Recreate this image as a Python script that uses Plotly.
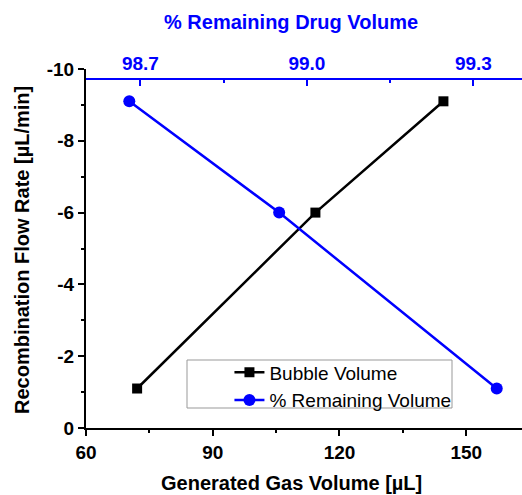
import plotly.graph_objects as go

# Data
gas_volume = [72.1, 114.3, 144.6]            # Generated Gas Volume [µL]
bubble_rate = [-1.1, -6.0, -9.1]             # Recombination Flow Rate [µL/min]
remaining_pct = [98.68, 98.95, 99.342]       # % Remaining Drug Volume
remaining_rate = [-9.1, -6.0, -1.1]

x_ticks = [60, 90, 120, 150]
y_ticks = [-10, -8, -6, -4, -2, 0]
y_ticktext = ["-10", "-8", "-6", "-4", "-2", "0"]
top_ticks = [98.7, 99.0, 99.3]
top_ticktext = ["98.7", "99.0", "99.3"]

FONT = "Liberation Sans, Arial, sans-serif"
BLUE = "#0000FF"
L, R, T, B = 86, 0, 69, 67
PW, PH = 522 - L - R, 495 - T - B

fig = go.Figure()
fig.add_trace(go.Scatter(
    x=gas_volume, y=bubble_rate, name="Bubble Volume",
    mode="lines+markers",
    line=dict(color="black", width=2.5),
    marker=dict(symbol="square", size=10, color="black"),
    xaxis="x", yaxis="y",
))
fig.add_trace(go.Scatter(
    x=remaining_pct, y=remaining_rate, name="% Remaining Volume",
    mode="lines+markers",
    line=dict(color=BLUE, width=2.5),
    marker=dict(symbol="circle", size=12, color=BLUE),
    xaxis="x2", yaxis="y",
))

fig.update_layout(
    width=522, height=495,
    margin=dict(l=L, r=R, t=T, b=B),
    paper_bgcolor="white", plot_bgcolor="white",
    font=dict(family=FONT, size=19, color="black"),
    showlegend=True,
    legend=dict(
        x=0.329, y=0.2076, xanchor="left", yanchor="top",
        bgcolor="rgba(0,0,0,0)", borderwidth=0,
        font=dict(family=FONT, size=19, color="black"),
        tracegroupgap=0, itemwidth=30,
    ),
    xaxis=dict(
        range=[60, 163.2], tickvals=x_ticks, automargin=False,
        showline=True, linecolor="black", linewidth=2,
        ticks="outside", ticklen=6, tickwidth=2, tickcolor="black",
        minor=dict(dtick=15, ticks="outside", ticklen=3, tickwidth=2, tickcolor="black"),
        showgrid=False, zeroline=False,
        tickfont=dict(family=FONT, size=19, color="black", weight="bold"),
    ),
    xaxis2=dict(
        range=[98.602, 99.3875], overlaying="x", side="top",
        anchor="free", position=0.972, automargin=False,
        tickvals=top_ticks, ticktext=top_ticktext,
        showline=True, linecolor=BLUE, linewidth=2,
        ticks="inside", ticklen=6, tickwidth=2, tickcolor=BLUE,
        minor=dict(tickvals=[98.85, 99.15], ticks="inside", ticklen=3, tickwidth=2, tickcolor=BLUE),
        showgrid=False, zeroline=False,
        tickfont=dict(family=FONT, size=19, color=BLUE, weight="bold"),
    ),
    yaxis=dict(
        range=[0, -10], tickvals=y_ticks, ticktext=y_ticktext, automargin=False,
        showline=True, linecolor="black", linewidth=2,
        ticks="outside", ticklen=6, tickwidth=2, tickcolor="black",
        minor=dict(dtick=1, ticks="outside", ticklen=3, tickwidth=2, tickcolor="black"),
        showgrid=False, zeroline=False,
        tickfont=dict(family=FONT, size=19, color="black", weight="bold"),
    ),
    annotations=[
        dict(text="<b>Generated Gas Volume [µL]</b>", xref="paper", yref="paper",
             x=(291 - L) / PW, y=(428 - 483) / PH, xanchor="center", yanchor="middle",
             showarrow=False, font=dict(family=FONT, size=20, color="black")),
        dict(text="<b>% Remaining Drug Volume</b>", xref="paper", yref="paper",
             x=(291 - L) / PW, y=(428 - 22) / PH, xanchor="center", yanchor="middle",
             showarrow=False, font=dict(family=FONT, size=20, color=BLUE)),
        dict(text="<b>Recombination Flow Rate [µL/min]</b>", xref="paper", yref="paper",
             x=(22 - L) / PW, y=(428 - 250) / PH, xanchor="center", yanchor="middle",
             textangle=-90, showarrow=False, font=dict(family=FONT, size=20, color="black")),
    ],
    shapes=[dict(
        type="rect", xref="paper", yref="paper", layer="below",
        x0=(187 - L) / PW, x1=(452 - L) / PW,
        y0=(428 - 408) / PH, y1=(428 - 360) / PH,
        line=dict(color="#999999", width=1), fillcolor="white",
    )],
)

fig.write_html(
    "out.html",
    config={"displayModeBar": False},
    post_script="document.body.style.margin='0';document.body.style.overflow='hidden';",
)
